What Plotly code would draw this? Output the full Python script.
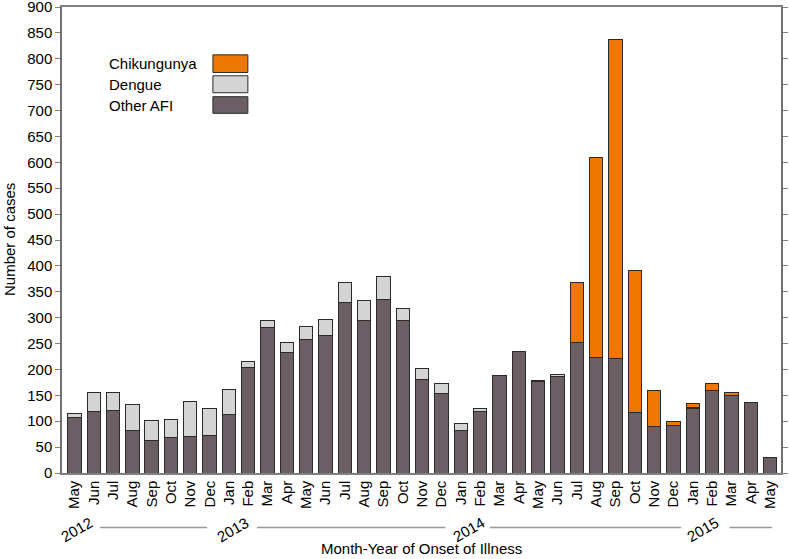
import plotly.graph_objects as go

months = ["May", "Jun", "Jul", "Aug", "Sep", "Oct", "Nov", "Dec",
          "Jan", "Feb", "Mar", "Apr", "May", "Jun", "Jul", "Aug", "Sep", "Oct", "Nov", "Dec",
          "Jan", "Feb", "Mar", "Apr", "May", "Jun", "Jul", "Aug", "Sep", "Oct", "Nov", "Dec",
          "Jan", "Feb", "Mar", "Apr", "May"]

other_afi = [108, 118, 120, 83, 62, 68, 70, 73,
             113, 203, 281, 233, 257, 266, 330, 294, 335, 294, 180, 154,
             82, 118, 188, 234, 177, 187, 252, 224, 222, 117, 90, 91,
             125, 159, 150, 137, 29]

dengue = [7, 38, 35, 50, 40, 36, 68, 52,
          49, 12, 13, 19, 26, 31, 37, 40, 44, 23, 22, 18,
          14, 7, 1, 0, 2, 3, 0, 0, 0, 0, 0, 0,
          2, 0, 0, 0, 0]

chikungunya = [0, 0, 0, 0, 0, 0, 0, 0,
               0, 0, 0, 0, 0, 0, 0, 0, 0, 0, 0, 0,
               0, 0, 0, 0, 0, 0, 115, 386, 616, 275, 70, 9,
               8, 13, 6, 0, 0]

years = ["2012", "2013", "2014", "2015"]
year_label_pos = [0.1, 8.2, 20.4, 32.5]          # x (category index) of year label
year_line_spans = [(1.33, 6.87), (9.45, 19.2), (21.5, 31.4), (33.9, 36.1)]

y_ticks = list(range(0, 901, 50))

legend_names = ["Chikungunya", "Dengue", "Other AFI"]

C_CHIK = "#EE7700"
C_DEN = "#D4D4D4"
C_OTH = "#6B5F65"
FONT = "Liberation Sans, Arial, sans-serif"

x = list(range(len(months)))

fig = go.Figure()
line_style = dict(color="#2a2a2a", width=1)
fig.add_bar(x=x, y=other_afi, name="Other AFI", marker=dict(color=C_OTH, line=line_style))
fig.add_bar(x=x, y=dengue, name="Dengue", marker=dict(color=C_DEN, line=line_style))
fig.add_bar(x=x, y=chikungunya, name="Chikungunya", marker=dict(color=C_CHIK, line=line_style))

fig.update_layout(
    width=789, height=559,
    margin=dict(l=62, r=8, t=7, b=86, autoexpand=False),
    barmode="stack", bargap=0.31,
    plot_bgcolor="white", paper_bgcolor="white",
    showlegend=False,
    font=dict(family=FONT, size=15, color="black"),
)

fig.update_xaxes(
    range=[-0.64, 36.57], automargin=False,
    tickmode="array", tickvals=x, ticktext=months,
    tickangle=-90, ticks="", showgrid=False, zeroline=False,
    showline=True, linecolor="#808080", linewidth=1.5, mirror=True,
    ticklabeloverflow="allow",
    tickfont=dict(size=15, family=FONT, color="black"),
)
fig.update_yaxes(
    range=[0, 900], automargin=False, tickmode="array", tickvals=y_ticks,
    ticks="outside", ticklen=5, tickcolor="#808080", tickwidth=1,
    showgrid=False, zeroline=False,
    showline=True, linecolor="#707070", linewidth=1.5, mirror="ticks",
    ticklabeloverflow="allow",
    tickfont=dict(size=15, family=FONT, color="black"),
)

shapes = []
annotations = []

# year labels and separator lines under month ticks
for yr, xp in zip(years, year_label_pos):
    annotations.append(dict(x=xp, y=-0.121, xref="x", yref="paper", text=yr,
                            textangle=-30, showarrow=False,
                            font=dict(size=15, family=FONT, color="black"),
                            xanchor="center", yanchor="middle"))
for x0, x1 in year_line_spans:
    shapes.append(dict(type="line", xref="x", yref="paper", x0=x0, x1=x1,
                       y0=-0.117, y1=-0.117, line=dict(color="#999999", width=1.5)))

# x axis title
annotations.append(dict(x=0.5, y=-0.1615, xref="paper", yref="paper",
                        text="Month-Year of Onset of Illness", showarrow=False,
                        font=dict(size=15, family=FONT, color="black"),
                        xanchor="center", yanchor="middle"))
# y axis title
annotations.append(dict(x=-0.0737, y=0.5, xref="paper", yref="paper",
                        text="Number of cases", textangle=-90, showarrow=False,
                        font=dict(size=15, family=FONT, color="black"),
                        xanchor="center", yanchor="middle"))

# legend (labels left, swatches right)
legend_colors = [C_CHIK, C_DEN, C_OTH]
box_y = [(0.8595, 0.8973), (0.8160, 0.8524), (0.7718, 0.8075)]
for name, col, (y0, y1) in zip(legend_names, legend_colors, box_y):
    shapes.append(dict(type="rect", xref="paper", yref="paper",
                       x0=0.2099, x1=0.2585, y0=y0, y1=y1,
                       fillcolor=col, line=dict(color="#2a2a2a", width=1)))
    annotations.append(dict(x=0.0621, y=(y0 + y1) / 2, xref="paper", yref="paper",
                            text=name, showarrow=False, xanchor="left", yanchor="middle",
                            font=dict(size=15, family=FONT, color="black")))

fig.update_layout(shapes=shapes, annotations=annotations)

fig.write_html("out.html", config={"displayModeBar": False},
               post_script="document.body.style.margin='0';document.body.style.overflow='hidden';")
